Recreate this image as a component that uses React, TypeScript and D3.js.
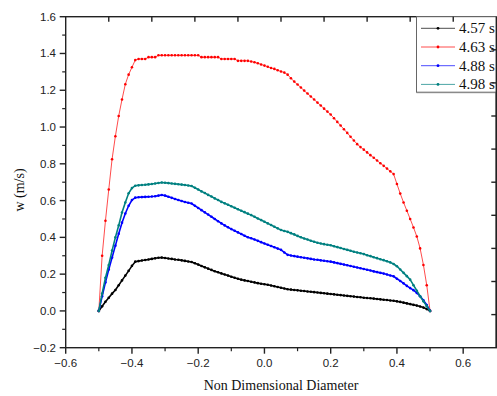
import React from "react";
import * as d3 from "d3";

const diameter = [
  -0.5, -0.49, -0.48, -0.47, -0.46, -0.45, -0.44, -0.43, -0.42, -0.41,
  -0.4, -0.39, -0.38, -0.37, -0.36, -0.35, -0.34, -0.33, -0.32, -0.31,
  -0.3, -0.29, -0.28, -0.27, -0.26, -0.25, -0.24, -0.23, -0.22, -0.21,
  -0.2, -0.19, -0.18, -0.17, -0.16, -0.15, -0.14, -0.13, -0.12, -0.11,
  -0.1, -0.09, -0.08, -0.07, -0.06, -0.05, -0.04, -0.03, -0.02, -0.01,
  0.0, 0.01, 0.02, 0.03, 0.04, 0.05, 0.06, 0.07, 0.08, 0.09,
  0.1, 0.11, 0.12, 0.13, 0.14, 0.15, 0.16, 0.17, 0.18, 0.19,
  0.2, 0.21, 0.22, 0.23, 0.24, 0.25, 0.26, 0.27, 0.28, 0.29,
  0.3, 0.31, 0.32, 0.33, 0.34, 0.35, 0.36, 0.37, 0.38, 0.39,
  0.4, 0.41, 0.42, 0.43, 0.44, 0.45, 0.46, 0.47, 0.48, 0.49,
  0.5,
];

const w457 = [
  0, 0.025, 0.05, 0.072, 0.094, 0.114, 0.14, 0.166, 0.192, 0.218,
  0.245, 0.268, 0.271, 0.274, 0.277, 0.28, 0.283, 0.286, 0.289, 0.29,
  0.288, 0.285, 0.283, 0.28, 0.278, 0.275, 0.272, 0.269, 0.266, 0.259,
  0.252, 0.244, 0.237, 0.23, 0.223, 0.216, 0.21, 0.204, 0.198, 0.192,
  0.186, 0.18, 0.175, 0.17, 0.166, 0.163, 0.159, 0.155, 0.151, 0.148,
  0.145, 0.142, 0.138, 0.134, 0.13, 0.126, 0.122, 0.118, 0.116, 0.114,
  0.112, 0.11, 0.108, 0.106, 0.104, 0.102, 0.1, 0.098, 0.096, 0.094,
  0.092, 0.09, 0.088, 0.086, 0.084, 0.082, 0.08, 0.078, 0.076, 0.074,
  0.072, 0.07, 0.069, 0.067, 0.065, 0.063, 0.061, 0.059, 0.057, 0.055,
  0.052, 0.049, 0.045, 0.041, 0.037, 0.033, 0.029, 0.024, 0.018, 0.01,
  0,
];

const w463 = [
  0, 0.3, 0.49, 0.66, 0.825, 0.95, 1.06, 1.15, 1.233, 1.285,
  1.325, 1.364, 1.37, 1.37, 1.37, 1.38, 1.38, 1.38, 1.39, 1.39,
  1.39, 1.39, 1.39, 1.39, 1.39, 1.39, 1.39, 1.39, 1.39, 1.39,
  1.39, 1.38, 1.38, 1.38, 1.38, 1.38, 1.38, 1.37, 1.37, 1.37,
  1.37, 1.37, 1.36, 1.36, 1.36, 1.36, 1.356, 1.352, 1.347, 1.34,
  1.334, 1.328, 1.321, 1.316, 1.309, 1.302, 1.296, 1.285, 1.265, 1.247,
  1.231, 1.215, 1.198, 1.182, 1.166, 1.15, 1.133, 1.117, 1.1, 1.084,
  1.068, 1.048, 1.028, 1.008, 0.988, 0.968, 0.947, 0.927, 0.907, 0.891,
  0.877, 0.862, 0.847, 0.833, 0.818, 0.803, 0.789, 0.774, 0.759, 0.744,
  0.69, 0.638, 0.59, 0.545, 0.5, 0.454, 0.405, 0.34, 0.25, 0.14,
  0,
];

const w488 = [
  0, 0.08, 0.155, 0.225, 0.29, 0.355, 0.42, 0.48, 0.53, 0.572,
  0.603, 0.616, 0.618, 0.619, 0.62, 0.621, 0.622, 0.624, 0.627, 0.63,
  0.627, 0.621, 0.615, 0.609, 0.603, 0.598, 0.592, 0.588, 0.584, 0.572,
  0.56, 0.548, 0.536, 0.524, 0.512, 0.5, 0.488, 0.476, 0.465, 0.455,
  0.445, 0.436, 0.427, 0.418, 0.409, 0.401, 0.395, 0.388, 0.381, 0.374,
  0.367, 0.36, 0.353, 0.346, 0.339, 0.332, 0.318, 0.305, 0.301, 0.298,
  0.295, 0.292, 0.289, 0.286, 0.283, 0.28, 0.278, 0.275, 0.273, 0.27,
  0.268, 0.264, 0.26, 0.256, 0.252, 0.248, 0.244, 0.24, 0.236, 0.232,
  0.228, 0.224, 0.22, 0.215, 0.211, 0.207, 0.203, 0.198, 0.193, 0.188,
  0.175, 0.163, 0.15, 0.136, 0.124, 0.113, 0.098, 0.08, 0.058, 0.032,
  0,
];

const w498 = [
  0, 0.095, 0.18, 0.25, 0.328, 0.4, 0.465, 0.535, 0.59, 0.64,
  0.668, 0.681, 0.683, 0.685, 0.686, 0.688, 0.69, 0.693, 0.696, 0.698,
  0.697, 0.695, 0.693, 0.691, 0.689, 0.687, 0.685, 0.682, 0.679, 0.67,
  0.66, 0.65, 0.641, 0.631, 0.622, 0.612, 0.603, 0.593, 0.585, 0.577,
  0.569, 0.561, 0.553, 0.545, 0.537, 0.529, 0.521, 0.512, 0.503, 0.494,
  0.485, 0.476, 0.467, 0.458, 0.449, 0.44, 0.435, 0.43, 0.423, 0.416,
  0.408, 0.401, 0.394, 0.388, 0.382, 0.376, 0.371, 0.367, 0.363, 0.36,
  0.357, 0.352, 0.347, 0.342, 0.337, 0.332, 0.327, 0.322, 0.318, 0.314,
  0.309, 0.303, 0.298, 0.292, 0.287, 0.281, 0.276, 0.27, 0.264, 0.255,
  0.243, 0.225, 0.207, 0.189, 0.17, 0.14, 0.11, 0.08, 0.052, 0.026,
  0,
];

const seriesNames = ["4.57 s", "4.63 s", "4.88 s", "4.98 s"];
const seriesValues = [w457, w463, w488, w498];
const seriesColors = ["#000000", "#ff0000", "#0000ff", "#008080"];

const xTicks = [-0.6, -0.4, -0.2, 0.0, 0.2, 0.4, 0.6];
const xMinor = [-0.5, -0.3, -0.1, 0.1, 0.3, 0.5];
const yTicks = [-0.2, 0.0, 0.2, 0.4, 0.6, 0.8, 1.0, 1.2, 1.4, 1.6];
const yMinor = [-0.1, 0.1, 0.3, 0.5, 0.7, 0.9, 1.1, 1.3, 1.5];

const W = 497;
const H = 396;
const L = 65.7;
const R = 496.3;
const T = 16.7;
const B = 347.7;

export default function App() {
  const x = d3.scaleLinear().domain([-0.6, 0.7]).range([L, R]);
  const y = d3.scaleLinear().domain([-0.2, 1.6]).range([B, T]);
  const line = d3
    .line<number>()
    .x((_, i) => x(diameter[i]))
    .y((d) => y(d));
  const fmt = d3.format(".1f");
  const sans = "'Liberation Sans', Arial, sans-serif";
  const serif = "'Liberation Serif', 'Times New Roman', serif";
  const topDiv = d3.range(1, 10).map((k) => L + ((R - L) * k) / 10);
  const rightDiv = d3.range(1, 10).map((k) => T + ((B - T) * k) / 10);

  return (
    <svg
      width={W}
      height={H}
      style={{ position: "absolute", left: 0, top: 0, background: "#fff" }}
    >
      <rect x={0} y={0} width={W} height={H} fill="#fff" />
      {/* series */}
      {seriesValues.map((vals, si) => (
        <g key={si}>
          <path
            d={line(vals) || ""}
            fill="none"
            stroke={seriesColors[si]}
            strokeWidth={si === 1 ? 1 : 1.6}
            strokeOpacity={si === 1 ? 0.7 : 1}
          />
          {vals.map((v, i) => (
            <circle
              key={i}
              cx={x(diameter[i])}
              cy={y(v)}
              r={1.3}
              fill={seriesColors[si]}
            />
          ))}
        </g>
      ))}
      {/* frame */}
      <rect
        x={L}
        y={T}
        width={R - L}
        height={B - T}
        fill="none"
        stroke="#222"
        strokeWidth={1.4}
      />
      {/* bottom ticks */}
      {xTicks.map((t) => (
        <g key={"xt" + t}>
          <line x1={x(t)} x2={x(t)} y1={B} y2={B + 6} stroke="#222" strokeWidth={1.4} />
          <text
            x={x(t)}
            y={366.5}
            textAnchor="middle"
            fontFamily={sans}
            fontSize={11.5}
            fill="#222"
          >
            {fmt(t)}
          </text>
        </g>
      ))}
      {xMinor.map((t) => (
        <line key={"xm" + t} x1={x(t)} x2={x(t)} y1={B} y2={B + 3.5} stroke="#222" strokeWidth={1.2} />
      ))}
      {/* left ticks */}
      {yTicks.map((t) => (
        <g key={"yt" + t}>
          <line x1={L - 6} x2={L} y1={y(t)} y2={y(t)} stroke="#222" strokeWidth={1.4} />
          <text
            x={56}
            y={y(t) + 4}
            textAnchor="end"
            fontFamily={sans}
            fontSize={11.5}
            fill="#222"
          >
            {fmt(t)}
          </text>
        </g>
      ))}
      {yMinor.map((t) => (
        <line key={"ym" + t} x1={L - 3.5} x2={L} y1={y(t)} y2={y(t)} stroke="#222" strokeWidth={1.2} />
      ))}
      {/* legend */}
      <g>
        <rect x={416.5} y={T} width={82} height={75.5} fill="#fff" stroke="#666" strokeWidth={1} />
        <line x1={416.5} x2={498} y1={T + 76} y2={T + 76} stroke="#888" strokeWidth={1} />
        {seriesNames.map((n, i) => {
          const ly = 28.3 + i * 18.7;
          return (
            <g key={n}>
              <line x1={421} x2={455} y1={ly} y2={ly} stroke={seriesColors[i]} strokeWidth={1} strokeOpacity={0.7} />
              <circle cx={438} cy={ly} r={1.4} fill={seriesColors[i]} />
              <text x={459} y={ly + 5} fontFamily={serif} fontSize={15} fill="#111">
                {n}
              </text>
            </g>
          );
        })}
      </g>
      {/* top and right inward ticks */}
      {topDiv.map((px, i) => (
        <line key={"tt" + i} x1={px} x2={px} y1={T} y2={T + 5} stroke="#222" strokeWidth={1.4} />
      ))}
      {rightDiv.map((py, i) => (
        <line key={"rt" + i} x1={R - 5} x2={R} y1={py} y2={py} stroke="#222" strokeWidth={1.4} />
      ))}
      <line x1={R} x2={R} y1={T} y2={B} stroke="#222" strokeWidth={1.4} />
      {/* axis titles */}
      <text
        x={281}
        y={390}
        textAnchor="middle"
        fontFamily={serif}
        fontSize={14}
        fill="#111"
      >
        Non Dimensional Diameter
      </text>
      <text
        transform="translate(24,190) rotate(-90)"
        textAnchor="middle"
        fontFamily={serif}
        fontSize={14}
        fill="#111"
      >
        w (m/s)
      </text>
    </svg>
  );
}
